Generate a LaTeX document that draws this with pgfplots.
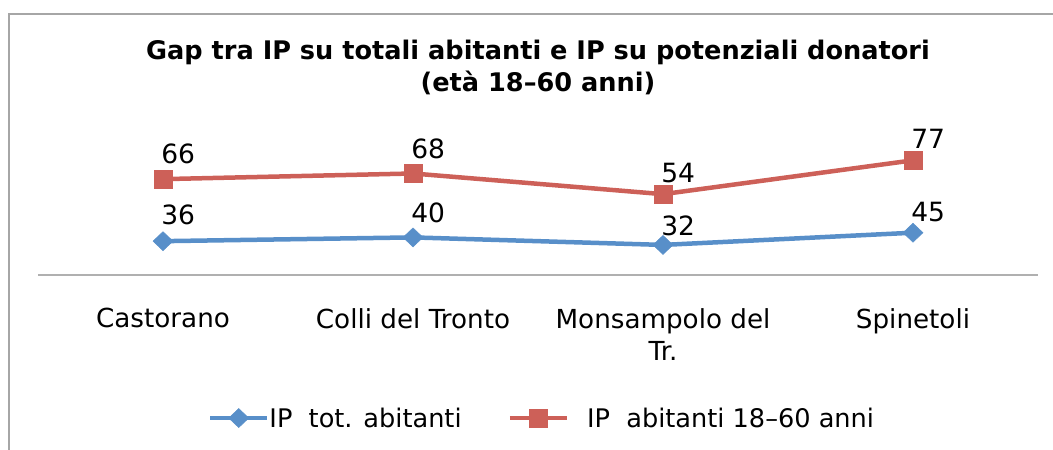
\documentclass[border=0pt]{standalone}
\usepackage{pgfplots}
\usepackage{pgfplotstable}
\pgfplotsset{compat=1.18}
\usepackage{fontspec}
\setmainfont{DejaVu Sans}
\definecolor{serblue}{RGB}{88,143,201}
\definecolor{serred}{RGB}{205,96,88}
\definecolor{framegray}{RGB}{166,166,166}
\definecolor{axgray}{RGB}{176,176,176}
\pgfplotstableread{
x y sh
0 36 17
1 40 15
2 32 9
3 45 11
}\tottab
\pgfplotstableread{
x y sh
0 66 16
1 68 15
2 54 12
3 77 12
}\giovtab
\begin{document}
\begin{tikzpicture}[x=1pt,y=1pt]
\useasboundingbox (0,0) rectangle (1053,-450);
\draw[framegray, line width=2pt] (8.5,-450) -- (8.5,-13.5) -- (1053,-13.5);
\begin{axis}[
  at={(38pt,-275pt)}, anchor=south west,
  scale only axis, width=1000pt, height=131.6pt,
  xmin=-0.5, xmax=3.5, ymin=0, ymax=140,
  clip=false,
  axis y line=none, axis x line*=bottom,
  axis line style={draw=axgray, line width=2pt},
  xtick={0,1,2,3},
  xticklabels={Castorano, Colli del Tronto, {Monsampolo del\\Tr.}, Spinetoli},
  major tick length=0pt,
  xticklabel style={anchor=north, align=center, inner sep=0pt, yshift=-33pt,
    font=\fontsize{26.2}{32}\selectfont},
  /pgf/number format/assume math mode=true,
  stack plots=y,
  point meta=explicit,
  visualization depends on={\thisrow{sh} \as \labshift},
  nodes near coords,
  nodes near coords style={anchor=base west, inner sep=0pt, xshift=-2pt, yshift=\labshift pt,
    font=\fontsize{26.5}{30}\selectfont, text=black},
  title={Gap tra IP su totali abitanti e IP su potenziali donatori\\(età 18–60 anni)},
  title style={at={(0.5,1.74)}, anchor=north, inner sep=0pt, align=center,
    font=\bfseries\fontsize{25.6}{32}\selectfont},
  legend columns=2,
  legend style={at={(0.503,-1.087)}, anchor=center, draw=none, inner sep=0pt,
    font=\fontsize{25.6}{30}\selectfont,
    nodes={inner sep=0pt},
    /tikz/every even column/.append style={column sep=46pt}},
  legend image code/.code={\draw[mark repeat=2,mark phase=2,#1] plot coordinates {(0pt,0pt) (28.5pt,0pt) (57pt,0pt)};},
]
\addplot[serblue, line width=4.5pt, mark=diamond*, mark size=9.5pt,
  mark options={xscale=1.4, line width=0.5pt, fill=serblue, draw=serblue}]
  table[x=x, y=y, meta=y] {\tottab};
\addlegendentry{IP\ \ tot. abitanti}
\addplot[serred, line width=4.5pt, mark=square*, mark size=9pt,
  mark options={line width=0.5pt, fill=serred, draw=serred}]
  table[x=x, y=y, meta=y] {\giovtab};
\addlegendentry{\hspace{18pt}IP\ \ abitanti 18–60 anni}
\end{axis}
\end{tikzpicture}
\end{document}
